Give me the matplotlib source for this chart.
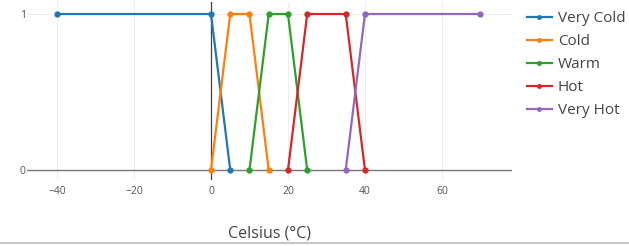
import matplotlib
matplotlib.use("Agg")
import matplotlib.pyplot as plt
from matplotlib.lines import Line2D

plt.rcParams['font.family'] = ['Open Sans', 'DejaVu Sans']

# membership functions (celsius -> degree)
names = ["Very Cold", "Cold", "Warm", "Hot", "Very Hot"]
colors = ["#1f77b4", "#ff7f0e", "#2ca02c", "#d62728", "#9467bd"]
xs = [
    [-40, 0, 5],
    [0, 5, 10, 15],
    [10, 15, 20, 25],
    [20, 25, 35, 40],
    [35, 40, 70],
]
ys = [
    [1, 1, 0],
    [0, 1, 1, 0],
    [0, 1, 1, 0],
    [0, 1, 1, 0],
    [0, 1, 1],
]
xticks = [-40, -20, 0, 20, 40, 60]
yticks = [0, 1]

fig = plt.figure(figsize=(6.29, 2.46), dpi=100)
ax = fig.add_axes([27 / 629, 1 - 180 / 246, 485 / 629, 178 / 246])

for name, c, x, y in zip(names, colors, xs, ys):
    ax.plot(x, y, color=c, lw=1.6, marker="o", ms=3.5, label=name, zorder=3)

ax.set_xlim(-47.8, 78.2)
ax.set_ylim(-0.064, 1.077)
ax.set_xticks(xticks)
ax.set_yticks(yticks)
ax.set_xticklabels(["\u2212" + str(-t) if t < 0 else str(t) for t in xticks])
for s in ax.spines.values():
    s.set_visible(False)
ax.grid(True, color="#eeeeee", lw=0.8, zorder=0)
ax.axhline(0, color="#777777", lw=1.0, zorder=2)
ax.axvline(0, color="#444444", lw=0.9, zorder=2)
ax.tick_params(axis="both", length=0, labelsize=7.5, labelcolor="#555555")
ax.tick_params(axis="x", pad=4)
ax.tick_params(axis="y", pad=1)

ax.set_xlabel("Celsius (\u00b0C)", fontsize=11.5, color="#444444", labelpad=21)

handles = [Line2D([0], [0], color=c, lw=1.6, marker="o", ms=2.5) for c in colors]
leg = fig.legend(handles, names, loc="upper left", bbox_to_anchor=(521 / 629, 1 - 5 / 246),
                 frameon=False, fontsize=11, handlelength=1.6, handletextpad=0.4,
                 labelspacing=0.52, borderaxespad=0)
for t in leg.get_texts():
    t.set_color("#444444")

fig.add_artist(Line2D([0, 1], [1 - 243 / 246] * 2, color="#bbbbbb", lw=1.2))

fig.savefig("out.png", dpi=100)
